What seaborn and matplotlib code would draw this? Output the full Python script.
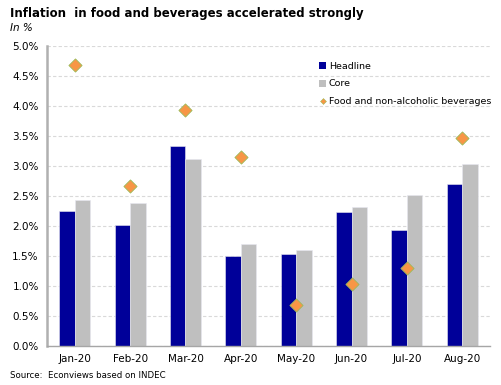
import numpy as np
import pandas as pd
import matplotlib
matplotlib.use("Agg")
import matplotlib.pyplot as plt
import seaborn as sns
from matplotlib.ticker import PercentFormatter, FixedLocator
from matplotlib.lines import Line2D
from matplotlib.patches import Patch

months = ["Jan-20", "Feb-20", "Mar-20", "Apr-20", "May-20", "Jun-20", "Jul-20", "Aug-20"]
headline = [2.26, 2.02, 3.34, 1.50, 1.54, 2.23, 1.93, 2.70]
core = [2.44, 2.39, 3.12, 1.71, 1.61, 2.32, 2.52, 3.03]
food = [4.68, 2.67, 3.93, 3.16, 0.68, 1.04, 1.30, 3.47]

blue = "#000099"
grey = "#BFBFBF"
orange = "#F79646"

sns.set_style("white")
plt.rcParams["font.family"] = ["DejaVu Sans"]
plt.rcParams["text.color"] = "black"
plt.rcParams["xtick.labelcolor"] = "black"
plt.rcParams["ytick.labelcolor"] = "black"

bars = pd.DataFrame({
    "month": months * 2,
    "series": ["Headline"] * 8 + ["Core"] * 8,
    "value": headline + core,
})
points = pd.DataFrame({"month": months, "value": food})

fig = plt.figure(figsize=(5.01, 3.85), dpi=100)
ax = fig.add_axes([0.094, 0.101, 0.884, 0.779])

sns.barplot(data=bars, x="month", y="value", hue="series", order=months,
            hue_order=["Headline", "Core"], palette=[blue, grey],
            saturation=1, width=0.56, gap=0, edgecolor="#E8E8F0",
            linewidth=0.4, legend=False, ax=ax)
sns.scatterplot(data=points, x="month", y="value", marker="D", s=45,
                color=orange, edgecolor="#9BBB59", linewidth=0.6,
                legend=False, zorder=5, ax=ax)

ax.set_xlim(-0.5, 7.5)
ax.set_ylim(0, 5.0)
ax.set_yticks(np.arange(0, 5.01, 0.5))
ax.yaxis.set_major_formatter(PercentFormatter(decimals=1))
ax.yaxis.grid(True, linestyle=(0, (3, 2)), color="#D9D9D9", linewidth=0.8)
ax.set_axisbelow(True)
ax.set_xlabel("")
ax.set_ylabel("")

for s in ["top", "right"]:
    ax.spines[s].set_visible(False)
ax.spines["left"].set_color("#B0B0B0")
ax.spines["left"].set_linewidth(1.8)
ax.spines["bottom"].set_color("#A6A6A6")
ax.spines["bottom"].set_linewidth(1.0)

ax.tick_params(axis="y", labelsize=7.5, length=4, color="#A6A6A6", width=1, pad=2)
ax.tick_params(axis="x", labelsize=7.5, length=0, pad=6)
ax.xaxis.set_minor_locator(FixedLocator(np.arange(-0.5, 8, 1)))
ax.tick_params(axis="x", which="minor", length=4, color="#A6A6A6", width=1)

handles = [
    Patch(facecolor=blue, edgecolor="none"),
    Patch(facecolor=grey, edgecolor="none"),
    Line2D([], [], marker="D", linestyle="none", markersize=3,
           markerfacecolor=orange, markeredgecolor="#9BBB59", markeredgewidth=0.4),
]
fig.legend(handles, ["Headline", "Core", "Food and non-alcoholic beverages"],
           loc="upper left", bbox_to_anchor=(0.63, 0.85), frameon=False,
           fontsize=6.8, handlelength=0.7, handleheight=0.7, handletextpad=0.3,
           labelspacing=0.95, borderaxespad=0)

fig.text(0.02, 0.965, "Inflation  in food and beverages accelerated strongly",
         fontsize=8.5, fontweight="bold", va="center")
fig.text(0.02, 0.927, "In %", fontsize=7.5, style="italic", va="center")
fig.text(0.02, 0.024, "Source:  Econviews based on INDEC", fontsize=6.2, va="center")

fig.savefig("out.png", dpi=100)
